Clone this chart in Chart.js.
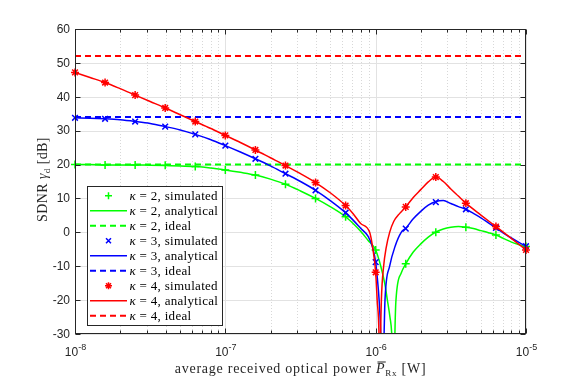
<!DOCTYPE html>
<html>
<head>
<meta charset="utf-8">
<script src="https://cdn.jsdelivr.net/npm/chart.js@4.4.0/dist/chart.umd.min.js"></script>
<style>
  html, body { margin: 0; padding: 0; background: #fff; }
  canvas { display: block; }
</style>
</head>
<body>
<canvas id="chart" width="581" height="378"></canvas>
<script>
"use strict";

// axis limits / ticks
const xMin = 1e-8;
const xMax = 1e-5;
const xTickExp = [-8, -7, -6, -5];
const minorMult = [2, 3, 4, 5, 6, 7, 8, 9];
const yTicks = [-30, -20, -10, 0, 10, 20, 30, 40, 50, 60];

// simulated points (exponent of P_Rx)
const simExp = [-8, -7.8, -7.6, -7.4, -7.2, -7, -6.8, -6.6, -6.4, -6.2, -6, -5.8, -5.6, -5.4, -5.2, -5];
const simK2 = [20.0, 19.9, 19.9, 19.8, 19.4, 18.4, 16.9, 14.2, 10.0, 4.6, -5.2, -9.3, 0.0, 1.5, -0.8, -4.2];
const simK3 = [33.8, 33.5, 32.7, 31.2, 28.9, 25.6, 21.7, 17.3, 12.4, 5.8, -8.8, 1.1, 8.9, 6.8, 1.3, -4.1];
const simK4 = [47.2, 44.2, 40.5, 36.7, 32.7, 28.6, 24.3, 19.7, 14.7, 7.9, -11.8, 7.5, 16.3, 8.6, 1.7, -5.2];

// analytical curves
const anaExpK2 = [-8, -7.9, -7.8, -7.7, -7.6, -7.5, -7.4, -7.3, -7.2, -7.1, -7, -6.9, -6.8, -6.7, -6.6, -6.5, -6.4, -6.3, -6.2,
  -6.15, -6.1, -6.05, -6, -5.966, -5.94, -5.922, -5.905, -5.893, -5.878, -5.872, -5.865, -5.83, -5.8, -5.75, -5.7, -5.65,
  -5.6, -5.55, -5.5, -5.45, -5.4, -5.35, -5.3, -5.25, -5.2, -5.15, -5.1, -5.05, -5];
const anaK2 = [20.0, 20.0, 19.9, 19.9, 19.9, 19.8, 19.7, 19.6, 19.4, 19.0, 18.4, 17.7, 16.9, 15.7, 14.2, 12.2, 10.0, 7.5, 4.6,
  2.6, 0.3, -2.4, -5.2, -10, -15, -20, -25, -30, -50, -30, -20, -12, -9.3, -5.8, -3.4, -1.4,
  0.1, 1.0, 1.5, 1.7, 1.5, 1.1, 0.5, -0.1, -0.8, -1.8, -2.8, -3.6, -4.3];

const anaExpK3 = [-8, -7.9, -7.8, -7.7, -7.6, -7.5, -7.4, -7.3, -7.2, -7.1, -7, -6.9, -6.8, -6.7, -6.6, -6.5, -6.4, -6.3, -6.2,
  -6.15, -6.1, -6.05, -6.02, -6, -5.99, -5.977, -5.966, -5.955, -5.944, -5.938, -5.907, -5.87, -5.83, -5.8, -5.75, -5.7,
  -5.65, -5.6, -5.55, -5.5, -5.45, -5.4, -5.35, -5.3, -5.25, -5.2, -5.15, -5.1, -5.05, -5];
const anaK3 = [33.8, 33.7, 33.5, 33.2, 32.7, 32.1, 31.2, 30.2, 28.9, 27.4, 25.6, 23.7, 21.7, 19.6, 17.3, 15.0, 12.4, 9.3, 5.8,
  3.6, 1.2, -1.2, -4.5, -8.8, -13, -20, -30, -50, -30, -20, -10, -4.0, 0, 1.2, 4.0, 6.2,
  8.0, 9.1, 9.4, 8.5, 7.6, 6.8, 5.6, 4.3, 2.8, 1.3, -0.2, -1.6, -2.9, -4.1];

const anaExpK4 = [-8, -7.9, -7.8, -7.7, -7.6, -7.5, -7.4, -7.3, -7.2, -7.1, -7, -6.9, -6.8, -6.7, -6.6, -6.5, -6.4, -6.3, -6.2,
  -6.15, -6.1, -6.04, -6.02, -6, -5.99, -5.978, -5.972, -5.967, -5.962, -5.947, -5.93, -5.907, -5.88, -5.84, -5.8, -5.75,
  -5.7, -5.65, -5.6, -5.55, -5.5, -5.45, -5.4, -5.3, -5.2, -5.1, -5];
const anaK4 = [47.2, 45.7, 44.2, 42.4, 40.5, 38.6, 36.7, 34.7, 32.7, 30.7, 28.6, 26.5, 24.3, 22.0, 19.7, 17.3, 14.7, 11.6, 7.9,
  5.5, 2.6, 0, -4.5, -11.8, -20, -30, -50, -30, -20, -10, -4.5, 0, 3.2, 5.6, 7.5, 10.3,
  12.6, 14.9, 16.3, 15.0, 12.8, 10.7, 8.6, 5.1, 1.7, -1.7, -5.2];

// ideal SDNR levels
const idealK2 = 20;
const idealK3 = 34;
const idealK4 = 52;

const green = "#00ff00";
const blue = "#0000ff";
const red = "#ff0000";
const axisColor = "#262626";

const toPoints = (exps, vals) => exps.map((e, i) => ({ x: Math.pow(10, e), y: vals[i] }));
const flat = v => [{ x: xMin, y: v }, { x: xMax, y: v }];

const simSet = (label, exps, vals, color, style, order) => ({
  label, data: toPoints(exps, vals), showLine: false, borderColor: color, backgroundColor: color,
  pointStyle: style, pointRadius: 4, pointBorderWidth: 1.5, clip: false, order
});
const anaSet = (label, exps, vals, color, order) => ({
  label, data: toPoints(exps, vals), borderColor: color, borderWidth: 1.5, pointRadius: 0,
  cubicInterpolationMode: "monotone", clip: 0, order
});
const idealSet = (label, v, color, order) => ({
  label, data: flat(v), borderColor: color, borderWidth: 2, borderDash: [6, 4], pointRadius: 0, clip: 0, order
});

const datasets = [
  simSet("κ = 2, simulated", simExp, simK2, green, "cross", 8),
  anaSet("κ = 2, analytical", anaExpK2, anaK2, green, 7),
  idealSet("κ = 2, ideal", idealK2, green, 6),
  simSet("κ = 3, simulated", simExp, simK3, blue, "crossRot", 5),
  anaSet("κ = 3, analytical", anaExpK3, anaK3, blue, 4),
  idealSet("κ = 3, ideal", idealK3, blue, 3),
  simSet("κ = 4, simulated", simExp, simK4, red, "star", 2),
  anaSet("κ = 4, analytical", anaExpK4, anaK4, red, 1),
  idealSet("κ = 4, ideal", idealK4, red, 0)
];

function drawMarker(ctx, style, x, y, r) {
  const d = r * Math.SQRT1_2;
  ctx.beginPath();
  if (style === "cross" || style === "star") {
    ctx.moveTo(x - r, y); ctx.lineTo(x + r, y);
    ctx.moveTo(x, y - r); ctx.lineTo(x, y + r);
  }
  if (style === "crossRot" || style === "star") {
    ctx.moveTo(x - d, y - d); ctx.lineTo(x + d, y + d);
    ctx.moveTo(x - d, y + d); ctx.lineTo(x + d, y - d);
  }
  ctx.stroke();
}

// draws text pieces one after another, centred on cx
function drawPieces(ctx, pieces, cx, baseY, spacing) {
  ctx.letterSpacing = (spacing || 0) + "px";
  let total = 0;
  pieces.forEach(p => { ctx.font = p.font; p.w = ctx.measureText(p.text).width; total += p.w; });
  let x = cx - total / 2;
  pieces.forEach(p => {
    ctx.font = p.font;
    ctx.fillText(p.text, x, baseY + (p.dy || 0));
    if (p.overline) {
      ctx.fillRect(x + 1.5, baseY - 11, p.w - 1, 1);
    }
    x += p.w;
  });
  ctx.letterSpacing = "0px";
}

const matlabAxes = {
  id: "matlabAxes",
  beforeDatasetsDraw(chart) {
    const { ctx, chartArea: a, scales: { x, y } } = chart;
    ctx.save();
    ctx.lineWidth = 1;
    // minor grid (dotted)
    ctx.strokeStyle = "#d8d8d8";
    ctx.setLineDash([1, 2]);
    xTickExp.slice(0, -1).forEach(e => {
      minorMult.forEach(m => {
        const px = Math.round(x.getPixelForValue(m * Math.pow(10, e))) + 0.5;
        ctx.beginPath(); ctx.moveTo(px, a.top); ctx.lineTo(px, a.bottom); ctx.stroke();
      });
    });
    ctx.setLineDash([]);
    // major grid
    ctx.strokeStyle = "#e2e2e2";
    xTickExp.forEach(e => {
      const px = Math.round(x.getPixelForValue(Math.pow(10, e))) + 0.5;
      ctx.beginPath(); ctx.moveTo(px, a.top); ctx.lineTo(px, a.bottom); ctx.stroke();
    });
    yTicks.forEach(v => {
      const py = Math.round(y.getPixelForValue(v)) + 0.5;
      ctx.beginPath(); ctx.moveTo(a.left, py); ctx.lineTo(a.right, py); ctx.stroke();
    });
    ctx.restore();
  },
  afterDatasetsDraw(chart) {
    const { ctx, chartArea: a, scales: { x, y } } = chart;
    ctx.save();
    ctx.strokeStyle = axisColor;
    ctx.fillStyle = axisColor;
    ctx.lineWidth = 1;
    const L = Math.round(a.left) + 0.5, R = Math.round(a.right) - 0.5;
    const T = Math.round(a.top) + 0.5, B = Math.round(a.bottom) - 0.5;
    ctx.strokeRect(L, T, R - L, B - T);

    // ticks, inward
    ctx.beginPath();
    yTicks.forEach(v => {
      const py = Math.round(y.getPixelForValue(v)) + 0.5;
      ctx.moveTo(L, py); ctx.lineTo(L + 5, py);
      ctx.moveTo(R, py); ctx.lineTo(R - 5, py);
    });
    xTickExp.forEach(e => {
      const px = Math.round(x.getPixelForValue(Math.pow(10, e))) + 0.5;
      ctx.moveTo(px, B); ctx.lineTo(px, B - 5);
      ctx.moveTo(px, T); ctx.lineTo(px, T + 5);
    });
    xTickExp.slice(0, -1).forEach(e => {
      minorMult.forEach(m => {
        const px = Math.round(x.getPixelForValue(m * Math.pow(10, e))) + 0.5;
        ctx.moveTo(px, B); ctx.lineTo(px, B - 3);
        ctx.moveTo(px, T); ctx.lineTo(px, T + 3);
      });
    });
    ctx.stroke();

    // tick labels
    ctx.font = "12px 'Liberation Sans', Arial, sans-serif";
    ctx.textAlign = "right";
    ctx.textBaseline = "middle";
    yTicks.forEach(v => ctx.fillText(String(v), a.left - 5, y.getPixelForValue(v) + 0.5));
    ctx.textAlign = "left";
    ctx.textBaseline = "alphabetic";
    xTickExp.forEach(e => {
      drawPieces(ctx, [
        { text: "10", font: "12px 'Liberation Sans', Arial, sans-serif" },
        { text: String(e), font: "9px 'Liberation Sans', Arial, sans-serif", dy: -6 }
      ], x.getPixelForValue(Math.pow(10, e)) + 0.5, a.bottom + 22);
    });

    // axis titles
    const serif = "'Liberation Serif', 'Times New Roman', serif";
    drawPieces(ctx, [
      { text: "average received optical power ", font: "14px " + serif },
      { text: "P", font: "italic 14px " + serif, overline: true },
      { text: "Rx", font: "9px " + serif, dy: 3 },
      { text: " [W]", font: "14px " + serif }
    ], (a.left + a.right) / 2, 372.5, 0.75);

    ctx.save();
    ctx.translate(47, 179.5);
    ctx.rotate(-Math.PI / 2);
    drawPieces(ctx, [
      { text: "SDNR ", font: "14px " + serif },
      { text: "γ", font: "italic 14px " + serif },
      { text: "d", font: "9px " + serif, dy: 3 },
      { text: " [dB]", font: "14px " + serif }
    ], 0, 0, 0.4);
    ctx.restore();

    // legend box
    const lx = 87.5, ly = 186.5, lw = 135, lh = 139;
    ctx.fillStyle = "#fff";
    ctx.fillRect(lx, ly, lw, lh);
    ctx.strokeStyle = axisColor;
    ctx.lineWidth = 1;
    ctx.strokeRect(lx, ly, lw, lh);
    chart.data.datasets.forEach((ds, i) => {
      const ry = 195.7 + i * 15;
      ctx.strokeStyle = ds.borderColor;
      if (ds.showLine === false) {
        ctx.lineWidth = 1.5;
        drawMarker(ctx, ds.pointStyle, 108.5, ry, 3.5);
      } else {
        ctx.lineWidth = ds.borderWidth;
        ctx.setLineDash(ds.borderDash || []);
        ctx.beginPath(); ctx.moveTo(90, ry); ctx.lineTo(127, ry); ctx.stroke();
        ctx.setLineDash([]);
      }
      ctx.fillStyle = "#000";
      ctx.textAlign = "left";
      ctx.letterSpacing = "0.3px";
      const k = ds.label.slice(0, 1);
      ctx.font = "italic 13px " + serif;
      ctx.fillText(k, 129.5, ry + 4.5);
      const kw = ctx.measureText(k).width;
      ctx.font = "13px " + serif;
      ctx.fillText(ds.label.slice(1), 129.5 + kw, ry + 4.5);
      ctx.letterSpacing = "0px";
    });
    ctx.restore();
  }
};

const chart = new Chart(document.getElementById("chart").getContext("2d"), {
  type: "line",
  data: { datasets },
  options: {
    responsive: false,
    animation: false,
    devicePixelRatio: 1,
    layout: { padding: { left: 75, right: 55, top: 29, bottom: 44 } },
    plugins: { legend: { display: false }, tooltip: { enabled: false } },
    scales: {
      x: { type: "logarithmic", min: xMin, max: xMax, display: false },
      y: { type: "linear", min: -30, max: 60, display: false }
    }
  },
  plugins: [matlabAxes]
});
</script>
</body>
</html>
